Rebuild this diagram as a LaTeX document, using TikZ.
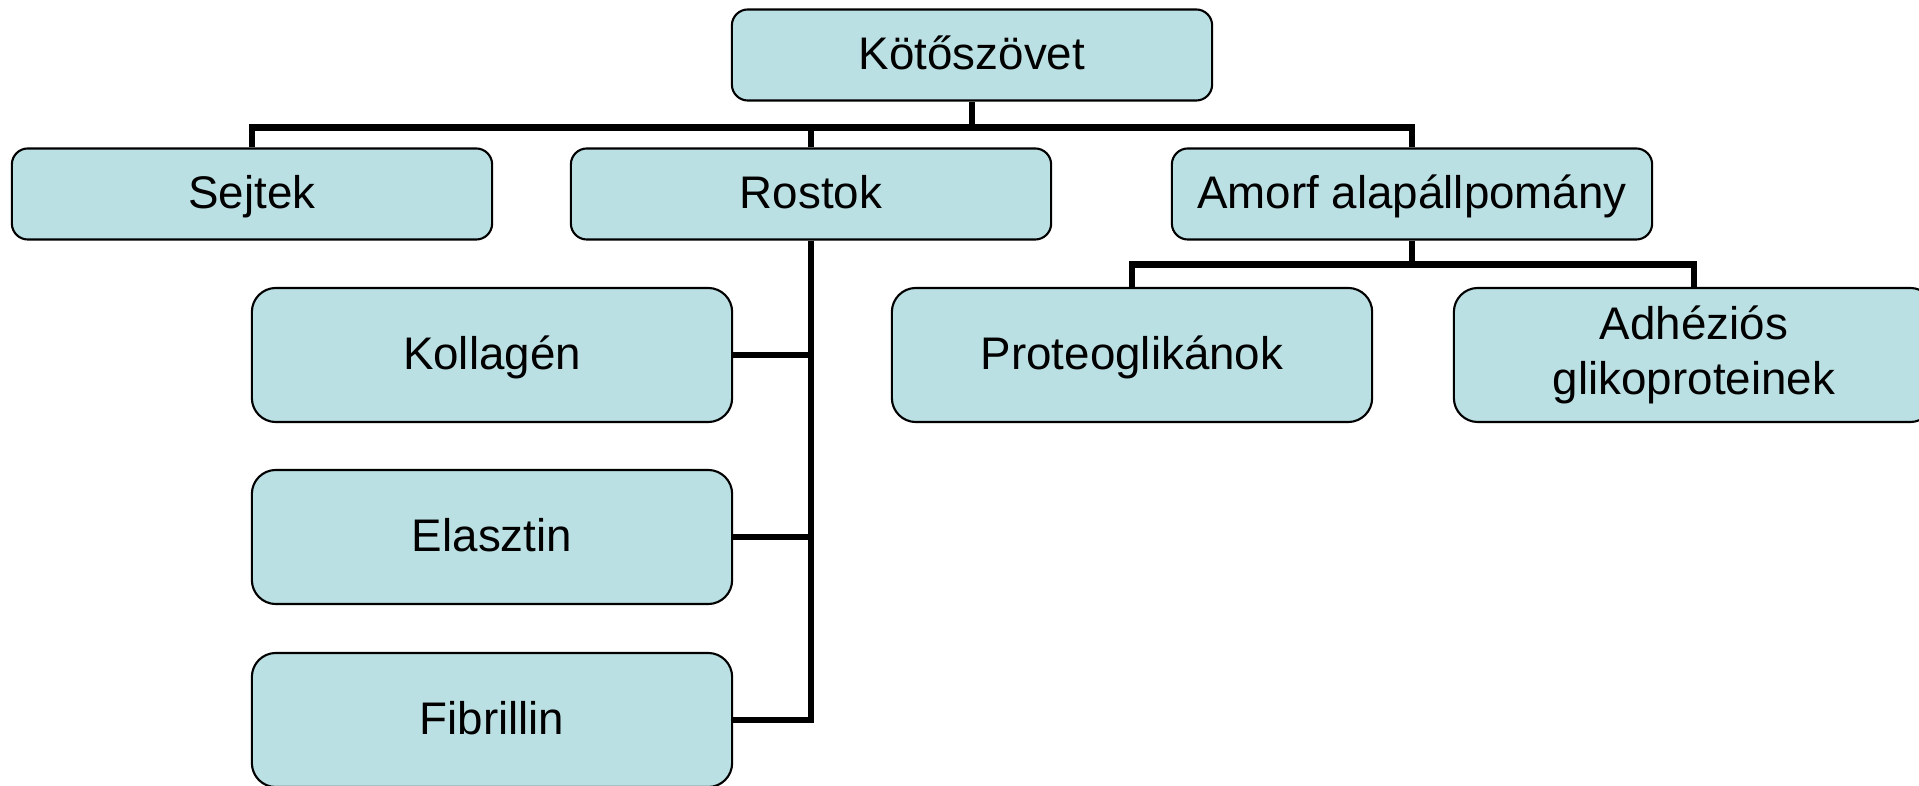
\documentclass[tikz,border=0pt]{standalone}
\usepackage{fontspec}
\setmainfont{Liberation Sans}
\usepackage{tikz}
\usetikzlibrary{positioning,calc}

\definecolor{boxfill}{RGB}{187,224,227}

\begin{document}
\begin{tikzpicture}[x=0.01cm, y=-0.01cm,
  box/.style={draw=black, line width=0.6pt, fill=boxfill, rounded corners=0.16cm,
    inner sep=0pt, align=center, minimum width=4.8cm, minimum height=0.91cm,
    text height=0.8em, text depth=0pt,
    font=\fontsize{13}{15.5}\selectfont},
  bigbox/.style={box, rounded corners=0.24cm, minimum height=1.34cm},
  conn/.style={line width=1.8pt, line join=miter}]
\useasboundingbox (0,0) rectangle (1919,786);
\clip (0,0) rectangle (1919,786);

% top level
\node[box] (kot) at (972,55) {Kötőszövet};

% second level
\node[box] (sejtek) at (252,194) {Sejtek};
\node[box] (rostok) at (811,194) {Rostok};
\node[box] (amorf)  at (1412,194) {Amorf alapállpomány};

% fibres
\node[bigbox] (kollagen)  at (492,355) {Kollagén};
\node[bigbox] (elasztin)  at (492,537) {Elasztin};
\node[bigbox] (fibrillin) at (492,720) {Fibrillin};

% ground substance
\node[bigbox] (proteo) at (1132,355) {Proteoglikánok};
\node[bigbox, text height={}, text depth={}] (adhez) at (1694,355) {Adhéziós\\glikoproteinek};

% connectors
\draw[conn] (kot.south) -- ++(0,26) -| (sejtek.north);
\draw[conn] (kot.south) -- ++(0,26) -| (rostok.north);
\draw[conn] (kot.south) -- ++(0,26) -| (amorf.north);

\draw[conn] (rostok.south) |- (kollagen.east);
\draw[conn] (rostok.south) |- (elasztin.east);
\draw[conn] (rostok.south) |- (fibrillin.east);

\draw[conn] (amorf.south) -- ++(0,24) -| (proteo.north);
\draw[conn] (amorf.south) -- ++(0,24) -| (adhez.north);
\end{tikzpicture}
\end{document}
